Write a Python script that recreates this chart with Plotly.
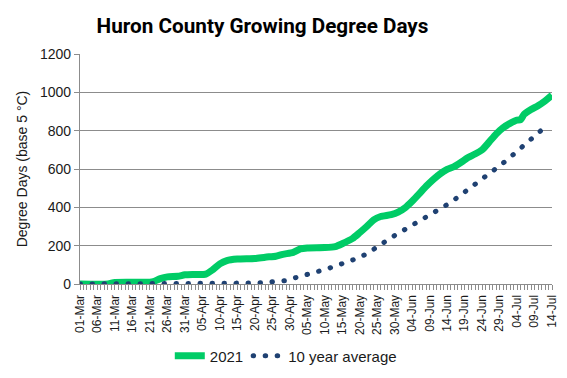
import plotly.graph_objects as go

# 2021 season cumulative GDD
dates_2021 = ["2021-03-01", "2021-03-09", "2021-03-11", "2021-03-21", "2021-03-22", "2021-03-24",
              "2021-03-26", "2021-03-29", "2021-03-31", "2021-04-03", "2021-04-06", "2021-04-08",
              "2021-04-10", "2021-04-12", "2021-04-15", "2021-04-20", "2021-04-23", "2021-04-26",
              "2021-04-28", "2021-05-01", "2021-05-03", "2021-05-05", "2021-05-10", "2021-05-13",
              "2021-05-15", "2021-05-18", "2021-05-20", "2021-05-22", "2021-05-24", "2021-05-26",
              "2021-05-29", "2021-05-31", "2021-06-02", "2021-06-04", "2021-06-06", "2021-06-08",
              "2021-06-10", "2021-06-12", "2021-06-14", "2021-06-16", "2021-06-18", "2021-06-20",
              "2021-06-22", "2021-06-24", "2021-06-26", "2021-06-28", "2021-06-30", "2021-07-02",
              "2021-07-04", "2021-07-05", "2021-07-06", "2021-07-08", "2021-07-10", "2021-07-12",
              "2021-07-14"]
gdd_2021 = [0, 0, 8, 9, 12, 28,
            37, 40, 48, 50, 52, 75,
            105, 122, 130, 133, 140, 145,
            155, 165, 183, 188, 190, 195,
            210, 238, 268, 300, 335, 352,
            362, 375, 398, 432, 470, 510,
            545, 575, 598, 612, 635, 660,
            678, 700, 740, 782, 815, 838,
            855, 857, 885, 910, 930, 955,
            985]

# 10 year average cumulative GDD
dates_avg = ["2021-03-01", "2021-04-06", "2021-04-10", "2021-04-15", "2021-04-19", "2021-04-22",
             "2021-04-26", "2021-04-29", "2021-05-02", "2021-05-06", "2021-05-09", "2021-05-12",
             "2021-05-15", "2021-05-19", "2021-05-22", "2021-05-25", "2021-05-27", "2021-05-30",
             "2021-06-02", "2021-06-05", "2021-06-08", "2021-06-11", "2021-06-14", "2021-06-17",
             "2021-06-20", "2021-06-22", "2021-06-25", "2021-06-28", "2021-07-01", "2021-07-03",
             "2021-07-06", "2021-07-09", "2021-07-11"]
gdd_avg = [0, 0, 1, 3, 5, 7,
           11, 18, 35, 53, 70, 87,
           104, 132, 157, 190, 218, 253,
           285, 314, 346, 381, 414, 452,
           491, 520, 562, 603, 645, 675,
           723, 768, 803]

y_ticks = [0, 200, 400, 600, 800, 1000, 1200]

GREEN = "#00CC66"
NAVY = "#1F4172"
GRID = "#8C8C8C"
FONT = "Liberation Sans, Arial, sans-serif"

fig = go.Figure()
fig.add_trace(go.Scatter(
    x=dates_2021, y=gdd_2021, name="2021", mode="lines",
    line=dict(color=GREEN, width=7, shape="spline", smoothing=0.6),
))
fig.add_trace(go.Scatter(
    x=dates_avg, y=gdd_avg, name="10 year average", mode="lines",
    line=dict(color=NAVY, width=5, dash="0.5px,11.5px"),
))

fig.update_layout(
    width=567, height=378,
    margin=dict(l=80, r=15, t=54, b=94, autoexpand=False),
    paper_bgcolor="white", plot_bgcolor="white",
    font=dict(family=FONT, color="#1a1a1a", size=13),
    title=dict(
        text="Huron County Growing Degree Days",
        font=dict(family="Roboto, Liberation Sans, sans-serif",
                  size=20.7, color="black", weight="bold"),
        x=0.463, xref="container", xanchor="center",
        y=0.932, yref="container", yanchor="middle",
    ),
    showlegend=True,
    legend=dict(
        orientation="h", x=0.436, xanchor="center",
        yref="container", y=0.058, yanchor="middle",
        font=dict(family=FONT, size=15, color="#1a1a1a"),
        bgcolor="rgba(0,0,0,0)", itemwidth=30,
    ),
)

fig.update_xaxes(
    type="date", automargin=False,
    range=["2021-03-01", "2021-07-14"],
    tick0="2021-03-01", dtick=5 * 86400000,
    tickformat="%d-%b", tickangle=-90,
    tickfont=dict(family=FONT, size=12, color="#1a1a1a"),
    ticks="outside", ticklen=5, tickcolor=GRID, tickwidth=1,
    minor=dict(dtick=86400000, ticks="outside", ticklen=5, tickcolor=GRID, tickwidth=1, showgrid=False),
    showline=True, linecolor=GRID, linewidth=1.3,
    showgrid=False, zeroline=False,
)
fig.update_yaxes(
    automargin=False,
    range=[0, 1200], tickvals=y_ticks,
    tickfont=dict(family=FONT, size=14, color="#1a1a1a"),
    ticks="outside", ticklen=5, tickcolor=GRID,
    showline=True, linecolor=GRID, linewidth=1.3,
    showgrid=True, gridcolor=GRID, gridwidth=1.2,
    zeroline=False,
    title=dict(text="Degree Days (base 5 °C)", font=dict(family=FONT, size=14, color="#1a1a1a"),
               standoff=8),
)

post = """
document.body.style.margin = '0';
document.body.style.padding = '0';
var gd = document.getElementById('{plot_id}');
function roundCaps(){
  gd.querySelectorAll('path').forEach(function(p){
    var d = p.style.strokeDasharray;
    if (d && d !== 'none') { p.style.strokeLinecap = 'round'; }
  });
}
roundCaps();
gd.on('plotly_afterplot', roundCaps);
"""

fig.write_html("out.html", post_script=post, config={"displayModeBar": False})
